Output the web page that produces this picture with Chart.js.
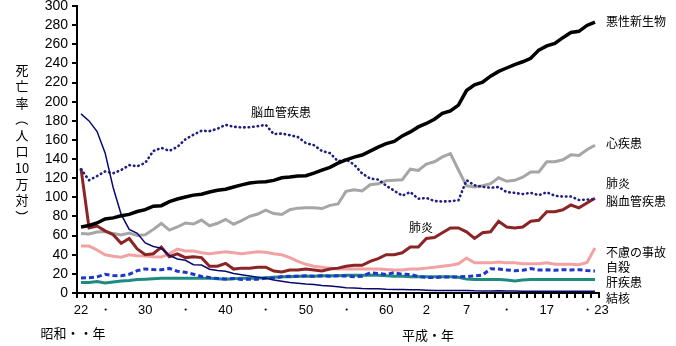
<!DOCTYPE html>
<html>
<head>
<meta charset="utf-8">
<script src="https://cdn.jsdelivr.net/npm/chart.js@4"></script>
<style>
  body { margin: 0; background: #fff; }
  canvas { display: block; }
</style>
</head>
<body>
<canvas id="death-chart" width="676" height="346"></canvas>
<script>
// 昭和22年(1947) 〜 平成23年(2011), one category per year
const yearTicks = [
  '22', '', '', '・', '', '', '', '', '30', '',
  '', '', '', '・', '', '', '', '', '40', '',
  '', '', '', '・', '', '', '', '', '50', '',
  '', '', '', '・', '', '', '', '', '60', '',
  '', '', '', '2', '', '', '', '', '7', '',
  '', '', '', '・', '', '', '', '', '17', '',
  '', '', '', '', '・23'
];

const yTicks = [0, 20, 40, 60, 80, 100, 120, 140, 160, 180, 200, 220, 240, 260, 280, 300];

// death rate per 100,000
const cancer = [
  69.0, 70.6, 73.2, 77.4, 78.5, 80.7, 82.2, 85.2, 87.1, 90.7,
  91.3, 95.5, 98.2, 100.4, 102.3, 103.2, 105.5, 107.4, 108.4, 110.8,
  113.0, 114.9, 115.9, 116.3, 117.7, 120.4, 121.2, 122.2, 122.6, 125.3,
  128.4, 131.3, 135.7, 139.1, 142.0, 144.2, 148.3, 152.5, 156.1, 158.5,
  164.2, 168.4, 173.6, 177.2, 181.7, 187.8, 190.4, 196.4, 211.6, 217.5,
  220.4, 226.7, 231.6, 235.2, 238.8, 241.7, 245.4, 253.9, 258.3, 261.0,
  266.9, 272.3, 273.5, 279.7, 283.2
];

const heart = [
  62.2, 61.8, 63.7, 64.2, 62.1, 60.6, 62.6, 60.0, 60.9, 66.5,
  72.7, 65.7, 69.0, 73.2, 72.1, 76.2, 70.3, 72.9, 77.0, 71.9,
  75.7, 80.2, 82.6, 86.7, 83.0, 82.0, 87.1, 88.7, 89.2, 89.2,
  88.3, 91.6, 93.1, 106.2, 107.9, 106.6, 113.2, 114.1, 117.3, 117.9,
  118.4, 129.4, 128.1, 134.8, 137.2, 142.2, 145.6, 128.6, 112.0, 110.8,
  112.2, 114.3, 120.4, 116.8, 117.8, 121.0, 126.5, 126.5, 137.2, 137.2,
  139.2, 144.4, 143.7, 149.8, 154.5
];

const stroke = [
  129.4, 117.9, 122.2, 127.1, 125.2, 128.5, 133.7, 132.4, 136.1, 148.4,
  151.7, 148.6, 152.7, 160.7, 165.4, 169.6, 169.2, 171.7, 175.8, 173.8,
  173.1, 173.2, 174.4, 175.8, 166.1, 166.7, 165.0, 163.0, 156.7, 154.5,
  148.4, 146.2, 137.7, 139.5, 134.3, 125.0, 119.6, 118.6, 112.2, 106.9,
  101.7, 105.5, 98.5, 99.4, 96.2, 95.6, 96.0, 96.9, 117.9, 112.6,
  111.0, 110.0, 110.8, 105.5, 104.7, 103.4, 104.7, 102.3, 105.3, 101.7,
  100.8, 100.9, 97.2, 97.7, 98.2
];

const pneumonia = [
  130, 68, 70, 65, 61, 52, 57, 46, 40, 41,
  48, 38, 41, 37, 38, 37, 28, 28, 31, 25,
  26, 26, 27, 27, 23, 22, 24, 24, 25, 24,
  23, 25, 26, 28, 29, 29, 33, 36, 40, 40,
  42, 48, 48, 57, 58, 63, 68, 68, 64, 57,
  63, 64, 75, 69, 68, 69, 75, 76, 85, 85,
  87, 92, 89, 94, 99
];

const accident = [
  49, 49, 45, 40, 38.5, 37.5, 40, 39, 38.7, 38,
  37.6, 41, 46, 44, 44, 42, 41, 42, 43, 42,
  41, 42, 43, 42.5, 41, 40, 37, 33, 30, 28,
  27, 26, 25, 25, 25, 25, 25, 25, 24.5, 24,
  24, 25, 25, 26, 27, 28, 29, 30.5, 36.5, 31.5,
  31.5, 31.5, 32.5, 31.5, 31.5, 30.5, 30.5, 30.5, 31.5, 30,
  30, 30, 29.5, 32, 47
];

const suicide = [
  15.7, 15.9, 16.9, 19.6, 18.2, 18.0, 19.6, 23.4, 25.2, 24.5,
  24.3, 25.7, 22.7, 21.6, 19.6, 17.3, 16.1, 15.1, 14.7, 15.2,
  14.2, 14.5, 14.5, 15.3, 15.6, 17.0, 17.4, 17.5, 18.0, 17.6,
  17.9, 17.6, 18.0, 17.7, 17.1, 17.5, 21.0, 20.4, 19.4, 21.2,
  19.6, 19.4, 17.3, 16.4, 16.1, 16.9, 16.6, 16.9, 17.2, 17.8,
  18.8, 25.4, 25.0, 24.1, 23.3, 23.8, 25.5, 24.0, 24.2, 23.7,
  24.4, 24.0, 24.4, 23.4, 22.9
];

const liver = [
  11, 11, 12, 10.5, 11.5, 12.5, 13, 14, 14.5, 15,
  15.5, 15.5, 15.5, 15.5, 15.5, 15.5, 15.5, 15, 14.5, 15,
  15.5, 15.5, 15.5, 16, 16.5, 17, 17, 17.5, 17.5, 17.5,
  18, 18, 18, 18.5, 18.5, 18.5, 18.5, 18.5, 18, 17.5,
  17.5, 17, 17, 17, 17, 17, 17, 16.5, 14.5, 14,
  14, 14, 14, 13.5, 12.5, 13.5, 14, 14, 14, 14,
  14, 14, 14, 14, 14
];

const tuberculosis = [
  187.2, 179.9, 168.8, 146.4, 110.3, 82.2, 66.5, 62.4, 52.3, 48.6,
  46.9, 39.4, 35.5, 34.2, 29.6, 29.3, 24.9, 23.6, 22.8, 20.3,
  19.0, 17.8, 16.6, 15.4, 13.6, 12.3, 11.1, 10.3, 9.5, 8.9,
  7.9, 7.2, 6.6, 5.5, 5.3, 4.8, 4.5, 4.5, 3.9, 3.6,
  3.6, 3.4, 3.3, 3.0, 2.7, 2.7, 2.6, 2.6, 2.6, 2.3,
  2.2, 2.2, 2.3, 2.1, 2.0, 1.8, 1.9, 1.8, 1.8, 1.8,
  1.7, 1.8, 1.7, 1.7, 1.7
];

const JP = "'Noto Sans CJK JP', sans-serif";

// series names placed beside the line ends, plus two inside the plot
const sideLabels = [
  { text: '悪性新生物', x: 606, y: 21 },
  { text: '心疾患', x: 606, y: 143 },
  { text: '肺炎', x: 606, y: 183 },
  { text: '脳血管疾患', x: 606, y: 201 },
  { text: '不慮の事故', x: 606, y: 252 },
  { text: '自殺', x: 606, y: 267 },
  { text: '肝疾患', x: 606, y: 282 },
  { text: '結核', x: 606, y: 298 },
  { text: '脳血管疾患', x: 251, y: 112 },
  { text: '肺炎', x: 409, y: 227 }
];

const yTitle = ['死', '亡', '率', '（', '人', '口', '10', '万', '対', '）'];

// small outward tick marks on both axes (one per year on x)
function drawTickMarks(chart) {
  const ctx = chart.ctx;
  const ys = chart.scales.y;
  const area = chart.chartArea;
  ctx.save();
  ctx.fillStyle = '#000000';
  const step = (area.right - area.left) / yearTicks.length;
  for (let i = 0; i <= yearTicks.length; i++) {
    const px = Math.round(area.left + i * step);
    ctx.fillRect(px - 1, Math.round(area.bottom), 2, 5);
  }
  yTicks.forEach(v => {
    const py = Math.round(ys.getPixelForValue(v));
    ctx.fillRect(Math.round(area.left) - 5, py - 1, 5, 2);
  });
  ctx.restore();
}

const textPlugin = {
  id: 'texts',
  afterDraw(chart) {
    drawTickMarks(chart);
    const ctx = chart.ctx;
    ctx.save();
    ctx.fillStyle = '#000';
    ctx.font = '12px ' + JP;
    ctx.textBaseline = 'middle';
    ctx.textAlign = 'left';
    sideLabels.forEach(l => ctx.fillText(l.text, l.x, l.y));

    // vertical axis title
    ctx.font = '13px ' + JP;
    ctx.textAlign = 'center';
    yTitle.forEach((ch, i) => {
      const y = 70 + i * 16.3;
      if (ch === '（' || ch === '）') {
        ctx.save();
        ctx.translate(22, y);
        ctx.rotate(Math.PI / 2);
        ctx.fillText(ch, 0, 0);
        ctx.restore();
      } else {
        ctx.fillText(ch, 22, y);
      }
    });

    ctx.font = '13px ' + JP;
    ctx.fillText('昭和・・年', 73, 333);
    ctx.fillText('平成・年', 428, 335);
    ctx.restore();
  }
};

const line = (label, data, color, width, dash) => ({
  label,
  data,
  borderColor: color,
  borderWidth: width,
  borderDash: dash || [],
  borderCapStyle: dash && dash[0] < 1 ? 'round' : 'butt',
  pointRadius: 0,
  tension: 0,
  fill: false
});

const tickFont = { family: "'Liberation Sans', Arial, sans-serif", size: 14 };

new Chart(document.getElementById('death-chart'), {
  type: 'line',
  data: {
    labels: yearTicks,
    datasets: [
      line('悪性新生物', cancer, '#000000', 3.5),
      line('結核', tuberculosis, '#0a0a6e', 1.5),
      line('脳血管疾患', stroke, '#1f1f80', 2.6, [0.5, 4]),
      line('肺炎', pneumonia, '#8b2424', 3),
      line('心疾患', heart, '#a6a6a6', 3),
      line('自殺', suicide, '#1f36c8', 3, [5, 3]),
      line('肝疾患', liver, '#1f8a80', 3),
      line('不慮の事故', accident, '#f2a2a2', 3)
    ]
  },
  options: {
    responsive: false,
    devicePixelRatio: 1,
    animation: false,
    layout: { padding: { left: 0, right: 77, top: 6, bottom: 0 } },
    plugins: {
      legend: { display: false },
      tooltip: { enabled: false }
    },
    scales: {
      x: {
        offset: true,
        grid: { display: false, drawTicks: true, tickLength: 6 },
        border: { color: '#000', width: 2 },
        ticks: {
          autoSkip: false,
          maxRotation: 0,
          padding: 4,
          color: '#000',
          font: { family: tickFont.family, size: 13 }
        },
        afterFit(s) { s.height = 53; s.paddingLeft = 0; s.paddingRight = 0; }
      },
      y: {
        min: 0,
        max: 300,
        afterBuildTicks(s) { s.ticks = yTicks.map(v => ({ value: v })); },
        grid: { display: false, drawTicks: true, tickLength: 6 },
        border: { color: '#000', width: 2 },
        ticks: {
          autoSkip: false,
          padding: 3,
          color: '#000',
          font: tickFont
        },
        afterFit(s) { s.width = 77; s.paddingTop = 0; s.paddingBottom = 0; }
      }
    }
  },
  plugins: [textPlugin]
});
</script>
</body>
</html>
